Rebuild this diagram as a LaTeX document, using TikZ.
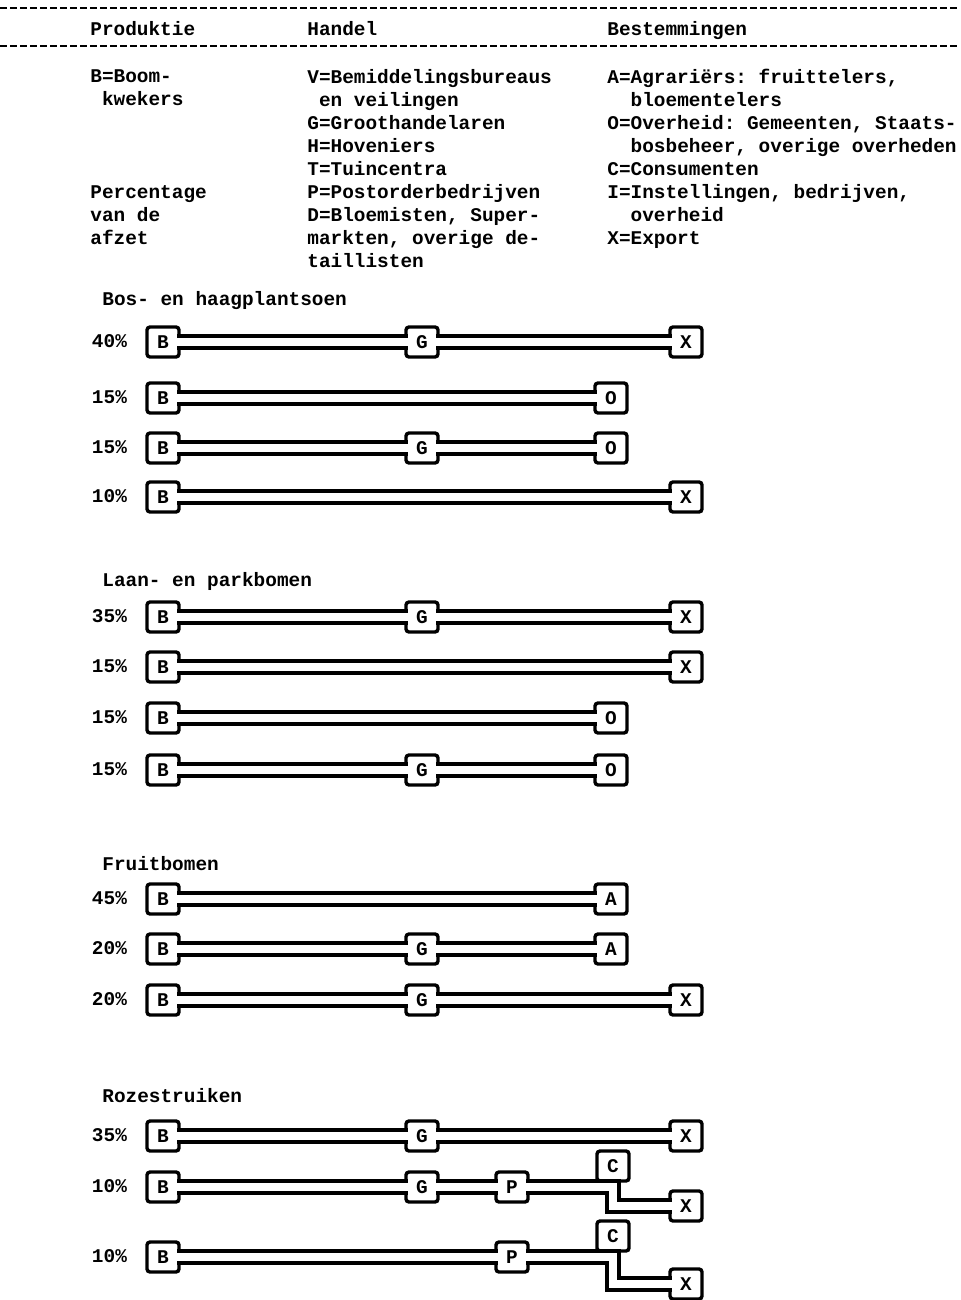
\documentclass[tikz,border=0pt]{standalone}
\usepackage{fontspec}
\newfontfamily\typer{Liberation Mono}
\usetikzlibrary{positioning}
\frenchspacing

\begin{document}
\begin{tikzpicture}[x=0.5pt, y=-0.5pt,
  txt/.style={anchor=base west, inner sep=0pt, align=left,
              font=\typer\bfseries\fontsize{9.7}{11.5}\selectfont},
  pct/.style={inner sep=0pt, text height=7pt, text depth=2pt,
              font=\typer\bfseries\fontsize{9.7}{11.5}\selectfont},
  box/.style={draw, fill=white, line width=1.7pt, rounded corners=1.5pt,
              minimum width=16pt, minimum height=15pt, inner sep=0pt,
              font=\typer\bfseries\fontsize{9.7}{11.5}\selectfont},
  pipe/.style={line width=1.7pt, double=white, double distance=4.3pt,
               shorten <=-1.7pt, shorten >=-1.7pt},
  dashrule/.style={line width=1pt, dash pattern=on 3.5pt off 1.5pt}]
  \useasboundingbox (0,0) rectangle (960,1300);

  % header
  \draw[dashrule] (0,8) -- (960,8);
  \draw[dashrule] (0,46) -- (960,46);
  \node[txt] (hProd) at (90,36)  {Produktie};
  \node[txt] (hHand) at (307,36) {Handel};
  \node[txt] (hBest) at (607,36) {Bestemmingen};

  % legend (anchored at the baseline of the last line)
  \node[txt] (legBoom) at (90,106) {B=Boom-\\\ kwekers};
  \node[txt] (legPct)  at (90,244) {Percentage\\van de\\afzet};
  \node[txt] (legHand) at (307,267) {V=Bemiddelingsbureaus\\\ en veilingen\\G=Groothandelaren\\H=Hoveniers\\T=Tuincentra\\P=Postorderbedrijven\\D=Bloemisten, Super-\\markten, overige de-\\taillisten};
  \node[txt] (legBest) at (607,244) {A=Agrariërs: fruittelers,\\\ \ bloementelers\\O=Overheid: Gemeenten, Staats-\\\ \ bosbeheer, overige overheden\\C=Consumenten\\I=Instellingen, bedrijven,\\\ \ overheid\\X=Export};

  % Bos- en haagplantsoen
  \node[txt] (secBos) at (102,306) {Bos- en haagplantsoen};
  \node[box] (B1) at (163,342) {B};
  \node[box] (G1) at (422,342) {G};
  \node[box] (X1) at (686,342) {X};
  \node[pct, left=9pt of B1] (pct1) {40\%};
  \draw[pipe] (B1) -- (G1);
  \draw[pipe] (G1) -- (X1);

  \node[box] (B2) at (163,398) {B};
  \node[box] (O2) at (611,398) {O};
  \node[pct, left=9pt of B2] (pct2) {15\%};
  \draw[pipe] (B2) -- (O2);

  \node[box] (B3) at (163,448) {B};
  \node[box] (G3) at (422,448) {G};
  \node[box] (O3) at (611,448) {O};
  \node[pct, left=9pt of B3] (pct3) {15\%};
  \draw[pipe] (B3) -- (G3);
  \draw[pipe] (G3) -- (O3);

  \node[box] (B4) at (163,497) {B};
  \node[box] (X4) at (686,497) {X};
  \node[pct, left=9pt of B4] (pct4) {10\%};
  \draw[pipe] (B4) -- (X4);

  % Laan- en parkbomen
  \node[txt] (secLaan) at (102,586) {Laan- en parkbomen};
  \node[box] (B5) at (163,617) {B};
  \node[box] (G5) at (422,617) {G};
  \node[box] (X5) at (686,617) {X};
  \node[pct, left=9pt of B5] (pct5) {35\%};
  \draw[pipe] (B5) -- (G5);
  \draw[pipe] (G5) -- (X5);

  \node[box] (B6) at (163,667) {B};
  \node[box] (X6) at (686,667) {X};
  \node[pct, left=9pt of B6] (pct6) {15\%};
  \draw[pipe] (B6) -- (X6);

  \node[box] (B7) at (163,718) {B};
  \node[box] (O7) at (611,718) {O};
  \node[pct, left=9pt of B7] (pct7) {15\%};
  \draw[pipe] (B7) -- (O7);

  \node[box] (B8) at (163,770) {B};
  \node[box] (G8) at (422,770) {G};
  \node[box] (O8) at (611,770) {O};
  \node[pct, left=9pt of B8] (pct8) {15\%};
  \draw[pipe] (B8) -- (G8);
  \draw[pipe] (G8) -- (O8);

  % Fruitbomen
  \node[txt] (secFruit) at (102,870) {Fruitbomen};
  \node[box] (B9) at (163,899) {B};
  \node[box] (A9) at (611,899) {A};
  \node[pct, left=9pt of B9] (pct9) {45\%};
  \draw[pipe] (B9) -- (A9);

  \node[box] (B10) at (163,949) {B};
  \node[box] (G10) at (422,949) {G};
  \node[box] (A10) at (611,949) {A};
  \node[pct, left=9pt of B10] (pct10) {20\%};
  \draw[pipe] (B10) -- (G10);
  \draw[pipe] (G10) -- (A10);

  \node[box] (B11) at (163,1000) {B};
  \node[box] (G11) at (422,1000) {G};
  \node[box] (X11) at (686,1000) {X};
  \node[pct, left=9pt of B11] (pct11) {20\%};
  \draw[pipe] (B11) -- (G11);
  \draw[pipe] (G11) -- (X11);

  % Rozestruiken
  \node[txt] (secRoze) at (102,1102) {Rozestruiken};
  \node[box] (B12) at (163,1136) {B};
  \node[box] (G12) at (422,1136) {G};
  \node[box] (X12) at (686,1136) {X};
  \node[pct, left=9pt of B12] (pct12) {35\%};
  \draw[pipe] (B12) -- (G12);
  \draw[pipe] (G12) -- (X12);

  \node[box] (B13) at (163,1187) {B};
  \node[box] (G13) at (422,1187) {G};
  \node[box] (P13) at (512,1187) {P};
  \node[box] (C13) at (613,1166) {C};
  \node[box] (X13) at (686,1206) {X};
  \node[pct, left=9pt of B13] (pct13) {10\%};
  \draw[pipe] (B13) -- (G13);
  \draw[pipe] (G13) -- (P13);
  \draw[pipe] (P13) -- (P13 -| C13) |- (X13);

  \node[box] (B14) at (163,1257) {B};
  \node[box] (P14) at (512,1257) {P};
  \node[box] (C14) at (613,1236) {C};
  \node[box] (X14) at (686,1284) {X};
  \node[pct, left=9pt of B14] (pct14) {10\%};
  \draw[pipe] (B14) -- (P14);
  \draw[pipe] (P14) -- (P14 -| C14) |- (X14);
\end{tikzpicture}
\end{document}
